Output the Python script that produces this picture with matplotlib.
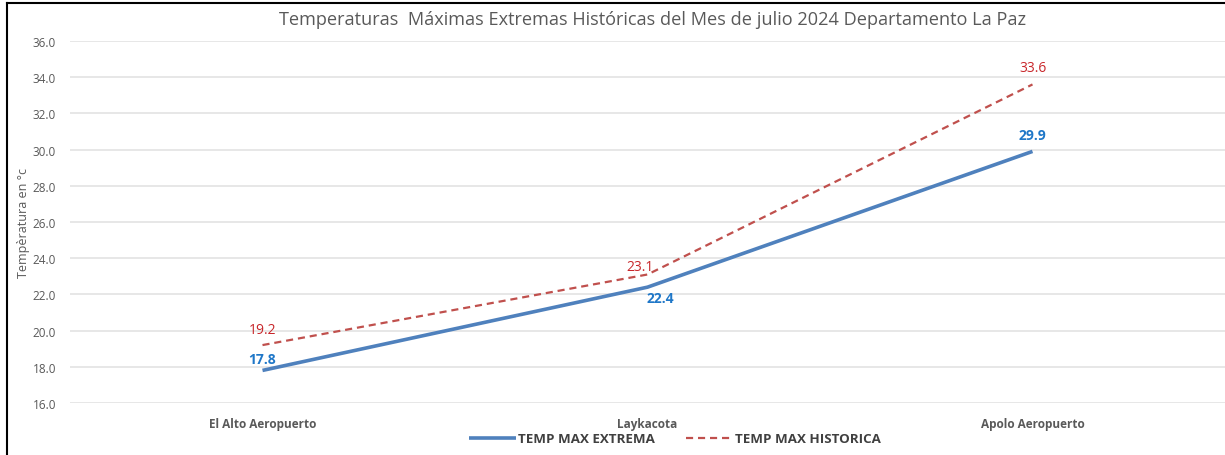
import matplotlib.pyplot as plt
from matplotlib.lines import Line2D

# data
estaciones = ["El Alto Aeropuerto", "Laykacota", "Apolo Aeropuerto"]
temp_extrema = [17.8, 22.4, 29.9]
temp_historica = [19.2, 23.1, 33.6]
yticks = [16, 18, 20, 22, 24, 26, 28, 30, 32, 34, 36]

plt.rcParams['font.family'] = ['Open Sans', 'DejaVu Sans']

fig = plt.figure(figsize=(12.25, 4.56), dpi=100)
ax = fig.add_axes([70 / 1225, 1 - 404 / 456, 1 - 70 / 1225, (404 - 42) / 456])

x = list(range(len(estaciones)))
blue = '#4F81BD'
red = '#C0504D'

ax.plot(x, temp_extrema, color=blue, lw=2.6, solid_capstyle='butt',
        label='TEMP MAX EXTREMA')
ax.plot(x, temp_historica, color=red, lw=1.6, ls=(0, (3.2, 2.2)),
        label='TEMP MAX HISTORICA')

# data labels (offsets in points, label centre relative to point)
offs_ext = [(0, 8), (9, -7.5), (0, 12)]
offs_hist = [(0, 11.5), (-5, 6), (0, 12)]
for xi, v, (dx, dy) in zip(x, temp_extrema, offs_ext):
    ax.annotate(f"{v:.1f}", (xi, v), xytext=(dx, dy), textcoords='offset points',
                ha='center', va='center', color='#1F77C8', fontsize=10, fontweight='bold')
for xi, v, (dx, dy) in zip(x, temp_historica, offs_hist):
    ax.annotate(f"{v:.1f}", (xi, v), xytext=(dx, dy), textcoords='offset points',
                ha='center', va='center', color='#C8262A', fontsize=10)

ax.set_xlim(-0.5, 2.5)
ax.set_ylim(16, 36)
ax.set_yticks(yticks)
ax.set_yticklabels([f"{t:.1f}" for t in yticks], color='#595959', fontsize=8.5)
ax.set_xticks(x)
ax.set_xticklabels(estaciones, color='#595959', fontsize=8.5, fontweight='bold')
ax.tick_params(axis='both', length=0, pad=10)
ax.grid(axis='y', color='#E3E3E3', lw=1.2)
ax.set_axisbelow(True)
for s in ax.spines.values():
    s.set_visible(False)

ax.set_ylabel("Tempèratura en °c", color='#595959', fontsize=9, labelpad=2)

fig.text(0.533, 1 - 20 / 456, "Temperaturas  Máximas Extremas Históricas del Mes de julio 2024 Departamento La Paz",
         ha='center', va='center', fontsize=13.1, color='#595959')

leg = fig.legend(loc='center', bbox_to_anchor=(675 / 1225, 1 - 440 / 456), ncol=2,
                 frameon=False, fontsize=9.6, handlelength=3.5, columnspacing=2.3,
                 handletextpad=0.2)
for t in leg.get_texts():
    t.set_color('#404040')
    t.set_fontweight('bold')

# frame edges visible in the reference crop
fig.add_artist(Line2D([6.5 / 1225, 6.5 / 1225], [0, 1 - 4 / 456], color='black', lw=1.5,
                      transform=fig.transFigure))
fig.add_artist(Line2D([6.5 / 1225, 1], [1 - 4 / 456, 1 - 4 / 456], color='black', lw=1.5,
                      transform=fig.transFigure))

fig.savefig('out.png', dpi=100)
